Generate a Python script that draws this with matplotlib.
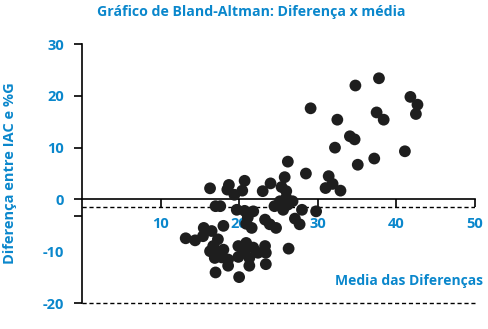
import numpy as np
import matplotlib
matplotlib.use("Agg")
import matplotlib.pyplot as plt

plt.rcParams['font.family'] = ['Open Sans', 'DejaVu Sans']

blue = '#0a87cc'
dot = '#1e1e1e'

# media (x) e diferenca (y) de cada par de medidas
media = [34.8, 37.8, 29.1, 41.8, 42.7, 42.5, 32.5, 37.5, 38.4, 34.1,
         34.7, 32.2, 41.1, 37.2, 35.1, 28.5, 31.4, 31.9, 31.0, 32.9,
         26.2, 16.3, 18.7, 18.5, 20.7, 20.4, 19.4, 24.0, 23.0, 25.8,
         25.4, 26.0,
         25.2, 26.0, 26.8, 24.5, 25.6, 26.2, 28.0, 29.8, 27.1, 27.7,
         17.0, 17.6, 19.7,
         20.7, 21.8, 21.1, 20.9, 21.6,
         23.3, 23.9, 24.7, 18.0,
         13.2, 14.4, 15.5, 16.5, 15.4, 17.3, 16.7, 16.3, 18.0, 16.9,
         18.6, 18.6, 17.0, 17.1, 17.8,
         19.9, 20.9, 19.9, 20.7, 21.3, 21.3, 22.4, 23.3, 23.4, 23.4,
         20.0, 26.3, 21.8]
diferenca = [22.0, 23.4, 17.6, 19.8, 18.3, 16.5, 15.4, 16.8, 15.4, 12.2,
             11.6, 10.0, 9.3, 7.9, 6.7, 5.0, 4.5, 3.0, 2.2, 1.7,
             7.3, 2.15, 2.8, 1.9, 3.6, 1.7, 0.9, 3.1, 1.6, 4.3,
             2.4, 1.6,
             -0.35, 0.3, -0.35, -1.3, -2.0, -1.0, -2.0, -2.3, -3.7, -4.8,
             -1.3, -1.3, -2.0,
             -2.2, -2.3, -3.5, -4.7, -5.5,
             -3.9, -4.8, -5.5, -5.1,
             -7.5, -7.9, -5.5, -6.1, -7.1, -7.7, -9.0, -10.0, -9.7, -11.3,
             -11.6, -12.8, -14.1, -10.0, -11.2,
             -9.0, -8.4, -11.1, -10.3, -11.3, -12.8, -10.3, -9.0, -10.3, -12.5,
             -15.0, -9.5, -9.3]

vies = -1.4
limite_inf = -20

y_ticks = [30, 20, 10, 0, -10, -20]
x_ticks = [10, 20, 30, 40, 50]

fig = plt.figure(figsize=(4.88, 3.29), dpi=100)
ax = fig.add_axes([0.168, 0.079, 0.805, 0.787])

ax.scatter(media, diferenca, s=72, color=dot, edgecolors='none', zorder=3)

ax.plot([0, 50], [vies, vies], color='black', lw=1, ls=(0, (3, 2)), zorder=2)
ax.plot([0, 50], [limite_inf, limite_inf], color='black', lw=1, ls=(0, (3, 2)),
        zorder=2, clip_on=False)

ax.set_xlim(0, 50)
ax.set_ylim(-20, 30)

for s in ['top', 'right']:
    ax.spines[s].set_visible(False)
ax.spines['bottom'].set_position(('data', 0))
ax.spines['left'].set_linewidth(1.2)
ax.spines['bottom'].set_linewidth(1.2)

ax.set_xticks(x_ticks)
ax.set_xticklabels([str(v) for v in x_ticks], color=blue, fontsize=10.5, fontweight='bold')
ax.set_yticks(y_ticks)
ax.set_yticklabels([str(v) for v in y_ticks], color=blue, fontsize=10.5, fontweight='bold')
ax.set_yticks([-3.2], minor=True)
ax.tick_params(axis='y', which='major', direction='out', length=6, width=1.2, pad=7)
ax.tick_params(axis='y', which='minor', direction='out', length=6, width=1.2)
ax.tick_params(axis='x', direction='out', length=6, width=1.2, pad=7)
ax.yaxis.get_major_ticks()[4].tick1line.set_visible(False)

ax.set_ylabel('Diferença entre IAC e %G', color=blue, fontsize=10.5, fontweight='bold')
ax.yaxis.set_label_coords(-0.165, 0.5)
ax.text(51, -15.8, 'Media das Diferenças', color=blue, fontsize=10, fontweight='bold',
        ha='right', va='center')
fig.text(0.514, 0.963, 'Gráfico de Bland-Altman: Diferença x média', color=blue,
         fontsize=10.2, fontweight='bold', ha='center', va='center')

fig.savefig('out.png', dpi=100)
